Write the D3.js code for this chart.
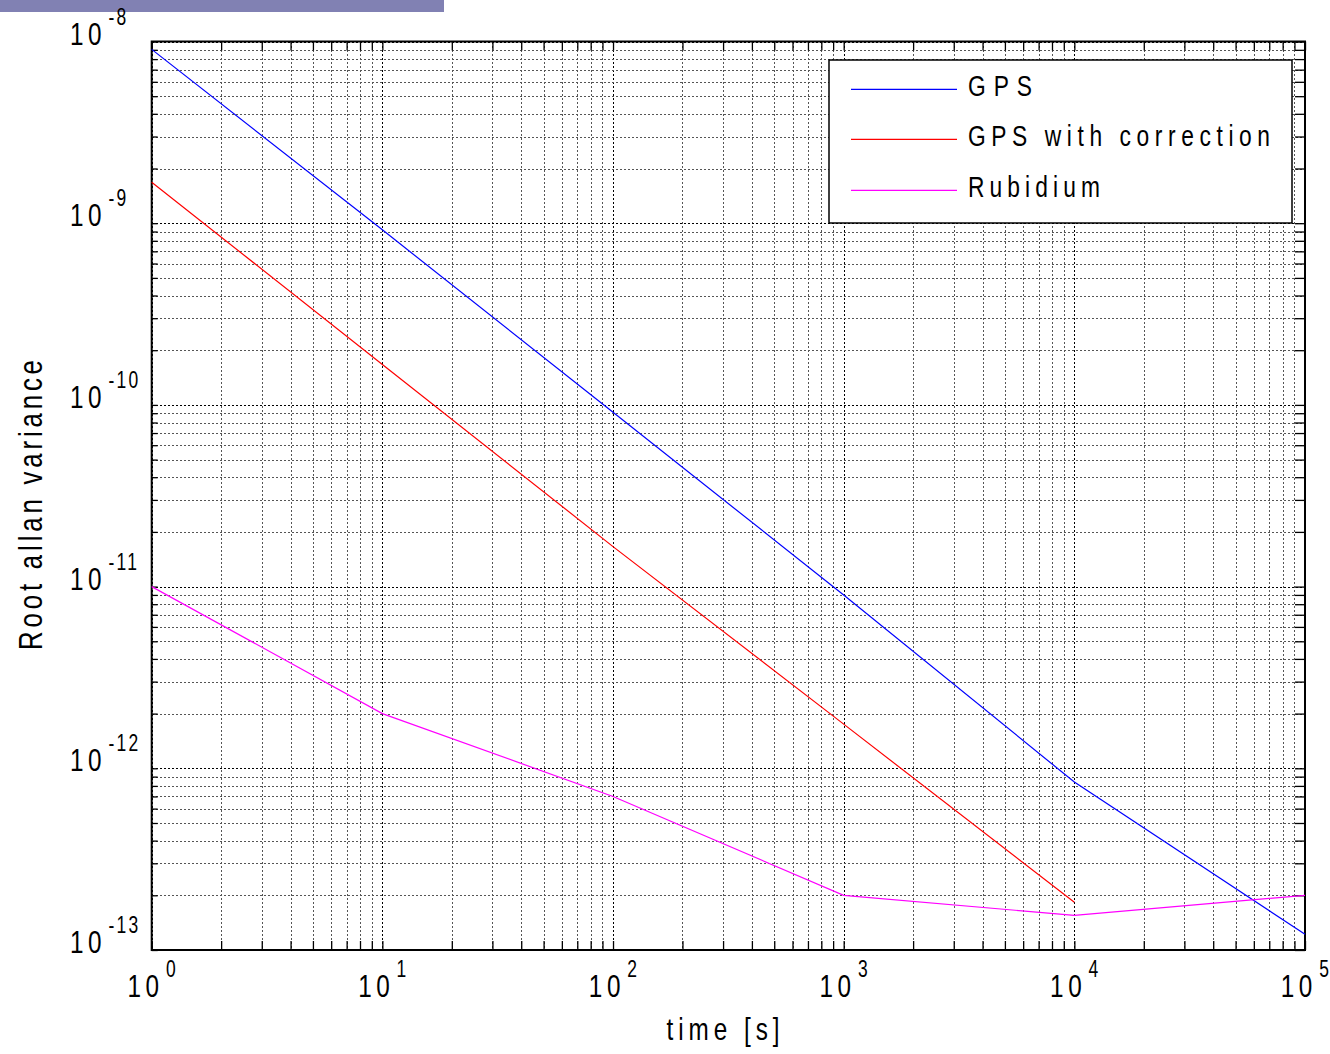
<!DOCTYPE html>
<html>
<head>
<meta charset="utf-8">
<script src="https://cdn.jsdelivr.net/npm/d3@7"></script>
<style>
  html, body { margin: 0; padding: 0; background: #fff; }
  svg { display: block; }
  text { font-family: "Liberation Sans", Arial, sans-serif; fill: #000; }
</style>
</head>
<body>
<svg id="chart" width="1330" height="1054"></svg>
<script>
// ---------- data ----------
const tau = [1, 10, 100, 1000, 10000, 100000];
const gps = [9.05e-9, 9.2e-10, 9.1e-11, 9.0e-12, 8.4e-13, 1.22e-13];
const gpsCorrTau = [1, 10, 100, 1000, 10000];
const gpsCorr = [1.68e-9, 1.67e-10, 1.66e-11, 1.75e-12, 1.83e-13];
const rubidium = [1.0e-11, 2.0e-12, 7.0e-13, 2.0e-13, 1.55e-13, 2.0e-13];
const seriesNames = ["GPS", "GPS with correction", "Rubidium"];
const seriesColors = ["#0000ff", "#ff0000", "#ff00ff"];
const xTickValues = [1, 10, 100, 1000, 10000, 100000];
const xTickExps = ["0", "1", "2", "3", "4", "5"];
const yTickValues = [1e-8, 1e-9, 1e-10, 1e-11, 1e-12, 1e-13];
const yTickExps = ["-8", "-9", "-10", "-11", "-12", "-13"];
const xTitle = "time [s]";
const yTitle = "Root allan variance";

// ---------- layout ----------
const L = 151.7, R = 1305, T = 41.5, B = 950;
const SX = 0.76; // horizontal condensing of the glyphs
const svg = d3.select("#chart");

// header bar
svg.append("rect").attr("x", 0).attr("y", 0).attr("width", 444).attr("height", 12).attr("fill", "#8181b3");

const x = d3.scaleLog().domain([1, 1e5]).range([L, R]);
const y = d3.scaleLog().domain([1e-13, 1e-8]).range([B, T]);

const isMajor = v => Math.abs(Math.log10(v) - Math.round(Math.log10(v))) < 1e-9;

// ---------- grid ----------
const grid = svg.append("g").attr("shape-rendering", "crispEdges");
const xt = x.ticks();
const yt = y.ticks();
grid.selectAll("line.gx").data(xt).enter().append("line")
  .attr("x1", d => Math.round(x(d)) + 0.5).attr("x2", d => Math.round(x(d)) + 0.5)
  .attr("y1", T).attr("y2", B)
  .attr("stroke", d => isMajor(d) ? "#000" : "#555")
  .attr("stroke-width", 1).attr("stroke-dasharray", "2,2");
grid.selectAll("line.gy").data(yt).enter().append("line")
  .attr("y1", d => Math.round(y(d)) + 0.5).attr("y2", d => Math.round(y(d)) + 0.5)
  .attr("x1", L).attr("x2", R)
  .attr("stroke", d => isMajor(d) ? "#000" : "#555")
  .attr("stroke-width", 1).attr("stroke-dasharray", "2,2");

// ---------- axes (ticks inside, on all four sides) ----------
const axB = d3.axisBottom(x).tickValues(xt).tickSizeInner(-9).tickSizeOuter(0).tickFormat("");
const axT = d3.axisTop(x).tickValues(xt).tickSizeInner(-9).tickSizeOuter(0).tickFormat("");
const axLft = d3.axisLeft(y).tickValues(yt).tickSizeInner(-6).tickSizeOuter(0).tickFormat("");
const axRgt = d3.axisRight(y).tickValues(yt).tickSizeInner(-10).tickSizeOuter(0).tickFormat("");
[[axB, `translate(0,${B})`], [axT, `translate(0,${T})`], [axLft, `translate(${L},0)`], [axRgt, `translate(${R},0)`]]
  .forEach(([ax, tr]) => {
    const g = svg.append("g").attr("transform", tr).call(ax);
    g.select(".domain").remove();
    g.selectAll("line").attr("stroke", "#000").attr("stroke-width", 1.3);
  });

// frame
svg.append("rect").attr("x", L).attr("y", T).attr("width", R - L).attr("height", B - T)
  .attr("fill", "none").attr("stroke", "#000").attr("stroke-width", 2);

// ---------- series ----------
const line = d3.line().x(d => x(d[0])).y(d => y(d[1]));
const seriesData = [
  d3.zip(tau, gps),
  d3.zip(gpsCorrTau, gpsCorr),
  d3.zip(tau, rubidium)
];
seriesData.forEach((data, i) => {
  svg.append("path").datum(data).attr("d", line)
    .attr("fill", "none").attr("stroke", seriesColors[i]).attr("stroke-width", 1.2);
});

// ---------- tick labels ----------
function powLabel(g, px, py, anchor, exp) {
  const t = g.append("text").attr("transform", `translate(${px},${py}) scale(${SX},1)`)
    .attr("text-anchor", anchor).attr("font-size", 32).attr("letter-spacing", 6);
  t.append("tspan").text("10");
  t.append("tspan").attr("font-size", 23).attr("dy", -20).attr("dx", 3).attr("letter-spacing", 3).text(exp);
}
const xl = svg.append("g");
xTickValues.forEach((v, i) => powLabel(xl, x(v) + 1, B + 47, "middle", xTickExps[i]));
const yl = svg.append("g");
yTickValues.forEach((v, i) => powLabel(yl, 70, y(v) + 3, "start", yTickExps[i]));

// ---------- axis titles ----------
svg.append("text").attr("transform", `translate(723,1040) scale(${SX},1)`).attr("text-anchor", "middle")
  .attr("font-size", 32).attr("textLength", 113 / SX).attr("lengthAdjust", "spacing").text(xTitle);
svg.append("text").attr("transform", `translate(42,505) rotate(-90) scale(${SX},1)`).attr("text-anchor", "middle")
  .attr("font-size", 34).attr("textLength", 290 / SX).attr("lengthAdjust", "spacing").text(yTitle);

// ---------- legend ----------
const leg = svg.append("g");
leg.append("rect").attr("x", 829).attr("y", 60).attr("width", 463).attr("height", 163)
  .attr("fill", "#fff").attr("stroke", "#000").attr("stroke-width", 1.5);
const legLineY = [89.3, 139.3, 190.3];
const legTextLen = [64, 302, 132];
seriesNames.forEach((n, i) => {
  leg.append("line").attr("x1", 851).attr("x2", 957).attr("y1", legLineY[i]).attr("y2", legLineY[i])
    .attr("stroke", seriesColors[i]).attr("stroke-width", 1.2);
  leg.append("text").attr("transform", `translate(968,${legLineY[i] + 6.5}) scale(${SX},1)`).attr("font-size", 30)
    .attr("textLength", legTextLen[i] / SX).attr("lengthAdjust", "spacing").text(n);
});
</script>
</body>
</html>
